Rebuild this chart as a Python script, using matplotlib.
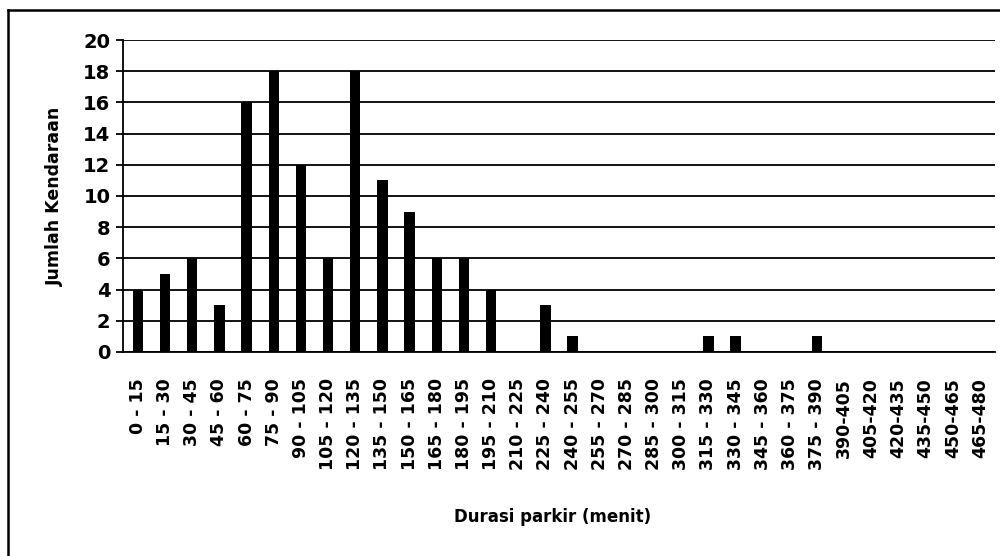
import matplotlib
matplotlib.use("Agg")
import matplotlib.pyplot as plt
from matplotlib.lines import Line2D

# durasi parkir (menit) per 15-minute class
kelas = ["0 - 15", "15 - 30", "30 - 45", "45 - 60", "60 - 75", "75 - 90",
         "90 - 105", "105 - 120", "120 - 135", "135 - 150", "150 - 165",
         "165 - 180", "180 - 195", "195 - 210", "210 - 225", "225 - 240",
         "240 - 255", "255 - 270", "270 - 285", "285 - 300", "300 - 315",
         "315 - 330", "330 - 345", "345 - 360", "360 - 375", "375 - 390",
         "390-405", "405-420", "420-435", "435-450", "450-465", "465-480"]
jumlah = [4, 5, 6, 3, 16, 18, 12, 6, 18, 11, 9, 6, 6, 4, 0, 3,
          1, 0, 0, 0, 0, 1, 1, 0, 0, 1, 0, 0, 0, 0, 0, 0]
y_ticks = list(range(0, 21, 2))

fig = plt.figure(figsize=(10, 5.56), dpi=100)
ax = fig.add_axes([0.123, 0.367, 0.872, 0.561])

x = range(len(kelas))
ax.bar(x, jumlah, width=0.38, color="black", zorder=3)

ax.set_xlim(-0.55, len(kelas) - 0.45)
ax.set_ylim(0, 20)
ax.set_yticks(y_ticks)
ax.yaxis.grid(True, color="black", linewidth=1.3, zorder=0)
ax.set_xticks(list(x))
ax.set_xticklabels(kelas, rotation=90, fontsize=12.5, fontweight="bold",
                   family="DejaVu Sans")
ax.tick_params(axis="x", length=0, pad=19)
ax.tick_params(axis="y", length=5, width=1.3, labelsize=14, pad=4)
for lbl in ax.get_yticklabels():
    lbl.set_fontweight("bold")

for side in ["top", "right"]:
    ax.spines[side].set_visible(False)
ax.spines["left"].set_linewidth(1.3)
ax.spines["bottom"].set_linewidth(1.3)

ax.set_ylabel("Jumlah Kendaraan", fontsize=12.5, fontweight="bold", labelpad=14)
fig.text(0.553, 0.07, "Durasi parkir (menit)", ha="center", va="center",
         fontsize=12, fontweight="bold")

# outer chart frame (only left and top edges visible in the scan)
fig.lines.append(Line2D([0.008, 0.008], [0.0, 0.982], transform=fig.transFigure,
                        color="black", linewidth=1.8))
fig.lines.append(Line2D([0.008, 1.0], [0.982, 0.982], transform=fig.transFigure,
                        color="black", linewidth=1.8))

fig.savefig("out.png", dpi=100, facecolor="white")
